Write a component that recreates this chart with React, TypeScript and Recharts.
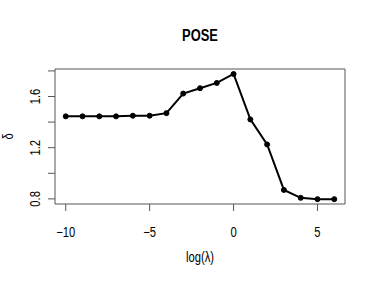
import {
  Customized,
  Line,
  LineChart,
  ReferenceArea,
  XAxis,
  YAxis,
} from "recharts";

const logLambda = [-10, -9, -8, -7, -6, -5, -4, -3, -2, -1, 0, 1, 2, 3, 4, 5, 6];
const delta = [
  1.445, 1.445, 1.445, 1.445, 1.45, 1.45, 1.47, 1.623, 1.665, 1.706, 1.776,
  1.421, 1.225, 0.87, 0.808, 0.798, 0.798,
];
const xTicks = [-10, -5, 0, 5];
const yTicks = [0.8, 1.0, 1.2, 1.4, 1.6, 1.8];
const yLabelled = [0.8, 1.2, 1.6];

const data = logLambda.map((x, i) => ({ x, y: delta[i] }));

const font = "'Liberation Sans', Arial, sans-serif";

// R draws a narrower, taller Helvetica than ours, so squeeze it sideways
const RText = ({ x, y, size = 14, sx = 0.8, rotate = 0, bold = false, children }: any) => (
  <text
    transform={`translate(${x}, ${y}) rotate(${rotate}) scale(${sx}, 1)`}
    textAnchor="middle"
    fontSize={size}
    fontWeight={bold ? "bold" : "normal"}
    fontFamily={font}
    fill="#000"
  >
    {children}
  </text>
);

const XTick = (props: any) => {
  const { x, payload } = props;
  const label = payload.value < 0 ? `\u2212${-payload.value}` : `${payload.value}`;
  return (
    <RText x={x} y={236.5}>
      {label}
    </RText>
  );
};

const YTick = (props: any) => {
  const { y, payload } = props;
  if (!yLabelled.includes(payload.value)) return <g />;
  return (
    <RText x={40} y={y} rotate={-90}>
      {payload.value.toFixed(1)}
    </RText>
  );
};

const Texts = () => (
  <g>
    <RText x={200} y={40.5} size={17} sx={0.76} bold>
      POSE
    </RText>
    <RText x={200} y={262}>
      log(λ)
    </RText>
    <RText x={13} y={136.5} rotate={-90}>
      δ
    </RText>
  </g>
);

export default function App() {
  return (
    <div style={{ position: "absolute", left: 0, top: 0 }}>
      <LineChart
        width={374}
        height={291}
        data={data}
        margin={{ top: 69, right: 29, left: 0, bottom: 0 }}
      >
        <XAxis
          dataKey="x"
          type="number"
          domain={[-10.64, 6.64]}
          ticks={xTicks}
          height={87}
          axisLine={false}
          tickLine={{ stroke: "#555" }}
          tickSize={7}
          tick={<XTick />}
        />
        <YAxis
          type="number"
          domain={[0.76, 1.815]}
          ticks={yTicks}
          width={55}
          axisLine={false}
          tickLine={{ stroke: "#555" }}
          tickSize={7}
          tick={<YTick />}
        />
        <ReferenceArea
          x1={-10.64}
          x2={6.64}
          y1={0.76}
          y2={1.815}
          fill="none"
          stroke="#555"
          strokeWidth={1}
        />
        <Line
          dataKey="y"
          stroke="#000"
          strokeWidth={2}
          dot={{ r: 2.5, fill: "#000", stroke: "#000", strokeWidth: 1 }}
          isAnimationActive={false}
        />
        <Customized component={Texts} />
      </LineChart>
    </div>
  );
}
